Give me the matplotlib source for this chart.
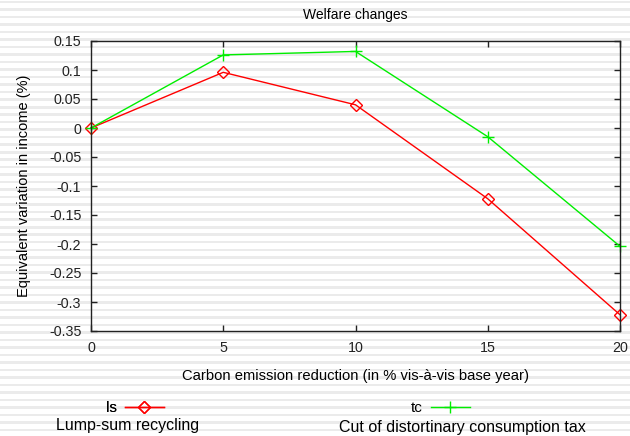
import matplotlib
matplotlib.use("Agg")
import matplotlib.pyplot as plt
from matplotlib.patches import Rectangle

plt.rcParams['font.family'] = ['Liberation Sans', 'DejaVu Sans']

x = [0, 5, 10, 15, 20]
ls_vals = [0.0, 0.096, 0.040, -0.122, -0.322]
tc_vals = [0.0, 0.126, 0.132, -0.015, -0.204]
yticks = [0.15, 0.1, 0.05, 0, -0.05, -0.1, -0.15, -0.2, -0.25, -0.3, -0.35]
ytick_labels = ['0.15', '0.1', '0.05', '0', '-0.05', '-0.1', '-0.15', '-0.2', '-0.25', '-0.3', '-0.35']
xticks = [0, 5, 10, 15, 20]

W, H = 630, 436
fig = plt.figure(figsize=(W/100, H/100), dpi=100)
fig.patch.set_facecolor('white')

# striped background
period = 7.5
yy = 1.0
while yy < H:
    fig.patches.append(Rectangle((0, 1 - (yy + 2.5)/H), 1, 2.5/H, transform=fig.transFigure,
                                 facecolor='#ebebeb', edgecolor='none', zorder=-10))
    yy += period

left, right, top, bottom = 91, 620, 41, 331
ax = fig.add_axes([left/W, 1 - bottom/H, (right-left)/W, (bottom-top)/H])
ax.patch.set_alpha(0)

l1, = ax.plot(x, ls_vals, color='#ff0000', lw=1, marker='D', markersize=6,
              markerfacecolor='none', markeredgecolor='#ff0000', markeredgewidth=1, clip_on=False)
l2, = ax.plot(x, tc_vals, color='#00ee00', lw=1, marker='+', markersize=9,
              markeredgecolor='#00ee00', markeredgewidth=1, clip_on=False)

ax.set_xlim(0, 20)
ax.set_ylim(-0.35, 0.15)
ax.set_xticks(xticks)
ax.set_yticks(yticks)
ax.set_yticklabels(ytick_labels)
ax.tick_params(direction='in', length=4.5, width=1, top=True, right=True,
               labelsize=10.3, pad=7, colors='#222222')
for s in ax.spines.values():
    s.set_linewidth(1)
    s.set_color('#222222')

ax.set_title('Welfare changes', fontsize=10, pad=16)
ax.set_xlabel('Carbon emission reduction (in % vis-à-vis base year)', fontsize=10.6, labelpad=10)
ax.set_ylabel('Equivalent variation in income (%)', fontsize=10.5, labelpad=13)

leg1 = fig.legend([l1], ['ls'], loc='center left', bbox_to_anchor=(100/W, 1 - 408/H),
                  frameon=False, markerfirst=False, fontsize=11, handlelength=2.6,
                  handletextpad=0.5, borderaxespad=0)
leg2 = fig.legend([l2], ['tc'], loc='center left', bbox_to_anchor=(405/W, 1 - 408/H),
                  frameon=False, markerfirst=False, fontsize=11, handlelength=2.6,
                  handletextpad=0.5, borderaxespad=0)
fig.add_artist(leg1)
fig.text(128/W, 1 - 425/H, 'Lump-sum recycling', ha='center', va='center', fontsize=11.5)
fig.text(462/W, 1 - 427/H, 'Cut of distortinary consumption tax', ha='center', va='center', fontsize=11.5)

fig.savefig('out.png', dpi=100)
